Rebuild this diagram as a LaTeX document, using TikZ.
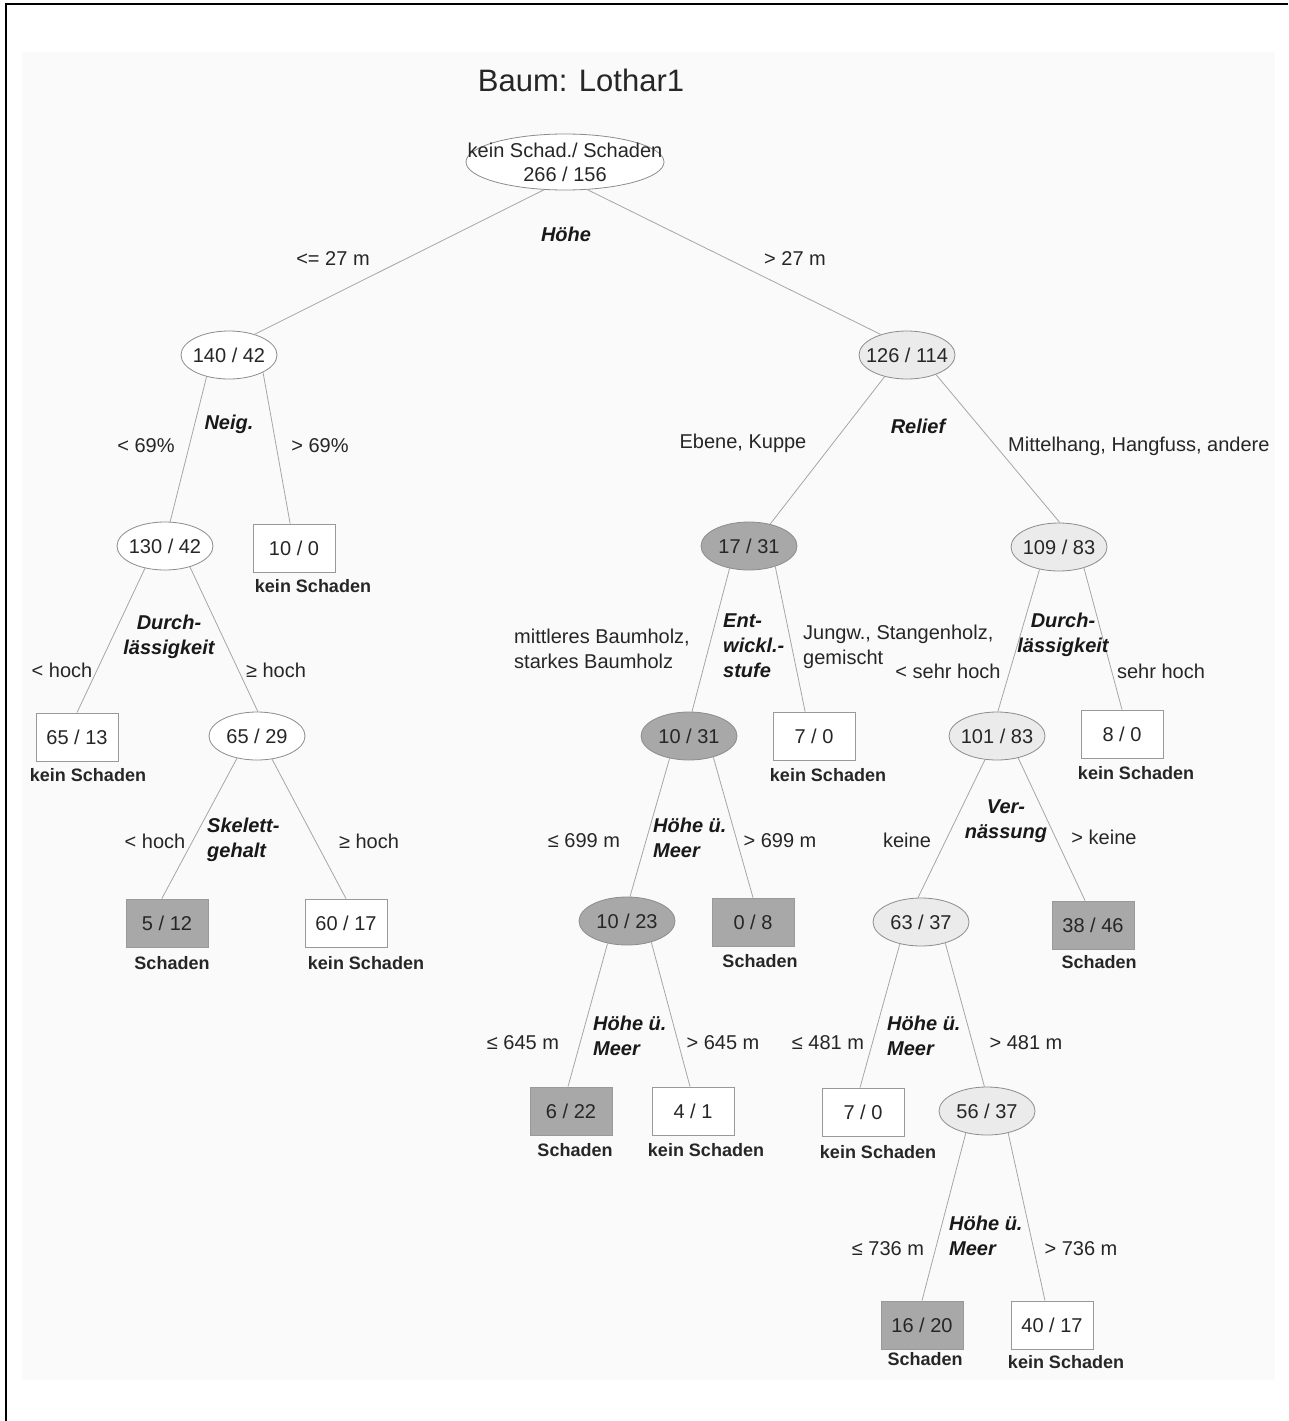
\documentclass[tikz,border=0pt]{standalone}
\usepackage{fontspec}
\setmainfont{Liberation Sans}
\usetikzlibrary{shapes.geometric}
\newcommand{\zw}[1]{\makebox[0pt][c]{#1}}
\begin{document}
\begin{tikzpicture}[x=1pt,y=-1pt,
  lab/.style={font=\fontsize{20}{25}\selectfont, text=black!85, inner sep=0pt},
  var/.style={font=\fontsize{20}{25}\selectfont\bfseries\itshape, text=black!90, inner sep=0pt},
  leaflab/.style={font=\fontsize{18}{22}\selectfont\bfseries, text=black!85, inner sep=0pt},
  ell/.style={ellipse, draw=black!45, line width=0.8pt, minimum width=96, minimum height=48, inner sep=0pt, font=\fontsize{20}{24}\selectfont, text=black!85, fill=white},
  leafbox/.style={rectangle, draw=black!40, line width=0.8pt, minimum width=82, minimum height=48, inner sep=0pt, font=\fontsize{20}{24}\selectfont, text=black!85, fill=white},
  dark/.style={fill=black!34},
  light/.style={fill=black!8},
  edge/.style={draw=black!35, line width=0.8pt}
]
\useasboundingbox (0,0) rectangle (1288,1421);
\fill[white] (0,0) rectangle (1288,1421);
\fill[black!2] (22,52) rectangle (1275,1380);
\draw[line width=2pt] (6,1421) -- (6,4) -- (1288,4);

% title
\node[font=\fontsize{31}{36}\selectfont, text=black!85, inner sep=0pt] (title) at (581,80) {Baum: Lothar1};

% nodes
\node[ell, minimum width=198, minimum height=56] (root) at (565,162) {};
\node[lab, align=center, font=\fontsize{20}{24}\selectfont] (roottext) at (root.center) {kein Schad./ Schaden\\266 / 156};
\node[ell] (n1) at (229,355) {\zw{140 / 42}};
\node[ell, light] (n2) at (907,355) {\zw{126 / 114}};
\node[ell] (n3) at (165,546) {\zw{130 / 42}};
\node[ell, dark] (n4) at (749,546) {\zw{17 / 31}};
\node[ell, light] (n5) at (1059,547) {\zw{109 / 83}};
\node[ell] (n6) at (257,736) {\zw{65 / 29}};
\node[ell, dark] (n7) at (689,736) {\zw{10 / 31}};
\node[ell, light] (n8) at (997,736) {\zw{101 / 83}};
\node[ell, dark] (n9) at (627,921) {\zw{10 / 23}};
\node[ell, light] (n10) at (921,922) {\zw{63 / 37}};
\node[ell, light] (n11) at (987,1111) {\zw{56 / 37}};

\node[leafbox] (b1) at (294,548) {10 / 0};
\node[leafbox] (b2) at (77,737) {65 / 13};
\node[leafbox, dark] (b3) at (167,923) {5 / 12};
\node[leafbox] (b4) at (346,923) {60 / 17};
\node[leafbox] (b5) at (814,736) {7 / 0};
\node[leafbox] (b6) at (1122,734) {8 / 0};
\node[leafbox, dark] (b7) at (753,922) {0 / 8};
\node[leafbox, dark] (b8) at (1093,925) {38 / 46};
\node[leafbox, dark] (b9) at (571,1111) {6 / 22};
\node[leafbox] (b10) at (693,1111) {4 / 1};
\node[leafbox] (b11) at (863,1112) {7 / 0};
\node[leafbox, dark] (b12) at (922,1325) {16 / 20};
\node[leafbox] (b13) at (1052,1325) {40 / 17};

% leaf captions
\node[leaflab] (c1) at (313,586) {kein Schaden};
\node[leaflab] (c2) at (88,775) {kein Schaden};
\node[leaflab] (c3) at (172,963) {Schaden};
\node[leaflab] (c4) at (366,963) {kein Schaden};
\node[leaflab] (c5) at (828,775) {kein Schaden};
\node[leaflab] (c6) at (1136,773) {kein Schaden};
\node[leaflab] (c7) at (760,961) {Schaden};
\node[leaflab] (c8) at (1099,962) {Schaden};
\node[leaflab] (c9) at (575,1150) {Schaden};
\node[leaflab] (c10) at (706,1150) {kein Schaden};
\node[leaflab] (c11) at (878,1152) {kein Schaden};
\node[leaflab] (c12) at (925,1359) {Schaden};
\node[leaflab] (c13) at (1066,1362) {kein Schaden};

% edges
\draw[edge] (root.-127) -- (n1.39);
\draw[edge] (root.-51) -- (n2.142);
\draw[edge] (n1.-136) -- (n3.78);
\draw[edge] (n1.-27) -- (b1.99);
\draw[edge] (n2.-136) -- (n4.46);
\draw[edge] (n2.-34) -- (n5.88);
\draw[edge] (n3.-132) -- (b2.north);
\draw[edge] (n3.-40) -- (n6.88);
\draw[edge] (n6.-132) -- (b3.102);
\draw[edge] (n6.-57) -- (b4.north);
\draw[edge] (n4.-131) -- (n7.83);
\draw[edge] (n4.-38) -- (b5.110);
\draw[edge] (n5.-131) -- (n8.88);
\draw[edge] (n5.-40) -- (b6.north);
\draw[edge] (n7.-131) -- (n9.83);
\draw[edge] (n7.-41) -- (b7.north);
\draw[edge] (n8.-117) -- (n10.97);
\draw[edge] (n8.-46) -- (b8.108);
\draw[edge] (n9.-131) -- (b9.97);
\draw[edge] (n9.-41) -- (b10.97);
\draw[edge] (n10.-134) -- (b11.97);
\draw[edge] (n10.-41) -- (n11.96);
\draw[edge] (n11.-134) -- (b12.north);
\draw[edge] (n11.-46) -- (b13.106);

% split variables
\node[var] (v1) at (566,234) {Höhe};
\node[var] (v2) at (229,424) {Neig.};
\node[var] (v3) at (918,426) {Relief};
\node[var, align=center] (v4) at (169,637) {Durch-\\lässigkeit};
\node[var, align=left, anchor=west] (v5) at (723,646) {Ent-\\wickl.-\\stufe};
\node[var, align=center] (v6) at (1063,635) {Durch-\\lässigkeit};
\node[var, align=left, anchor=west] (v7) at (207,840) {Skelett-\\gehalt};
\node[var, align=left, anchor=west] (v8) at (653,838) {Höhe ü.\\Meer};
\node[var, align=center] (v9) at (1006,821) {Ver-\\nässung};
\node[var, align=left, anchor=west] (v10) at (593,1036) {Höhe ü.\\Meer};
\node[var, align=left, anchor=west] (v11) at (887,1036) {Höhe ü.\\Meer};
\node[var, align=left, anchor=west] (v12) at (949,1236) {Höhe ü.\\Meer};

% branch labels
\node[lab] (l1) at (333,259) {<= 27 m};
\node[lab] (l2) at (795,259) {> 27 m};
\node[lab] (l3) at (146,446) {< 69\%};
\node[lab] (l4) at (320,446) {> 69\%};
\node[lab] (l5) at (743,443) {Ebene, Kuppe};
\begin{scope}
\clip (0,0) rectangle (1276,1421);
\node[lab, anchor=west] (l6) at (1008,446) {Mittelhang, Hangfuss, andere};
\end{scope}
\node[lab] (l7) at (62,670) {< hoch};
\node[lab] (l8) at (276,670) {≥ hoch};
\node[lab, align=left, anchor=west] (l9) at (514,649) {mittleres Baumholz,\\starkes Baumholz};
\node[lab, align=left, anchor=west] (l10) at (803,647) {Jungw., Stangenholz,\\gemischt};
\node[lab] (l11) at (948,671) {< sehr hoch};
\node[lab] (l12) at (1161,671) {sehr hoch};
\node[lab] (l13) at (155,841) {< hoch};
\node[lab] (l14) at (369,841) {≥ hoch};
\node[lab] (l15) at (584,841) {≤ 699 m};
\node[lab] (l16) at (780,841) {> 699 m};
\node[lab] (l17) at (907,840) {keine};
\node[lab] (l18) at (1104,837) {> keine};
\node[lab] (l19) at (523,1043) {≤ 645 m};
\node[lab] (l20) at (723,1043) {> 645 m};
\node[lab] (l21) at (828,1043) {≤ 481 m};
\node[lab] (l22) at (1026,1043) {> 481 m};
\node[lab] (l23) at (888,1249) {≤ 736 m};
\node[lab] (l24) at (1081,1249) {> 736 m};
\end{tikzpicture}
\end{document}
